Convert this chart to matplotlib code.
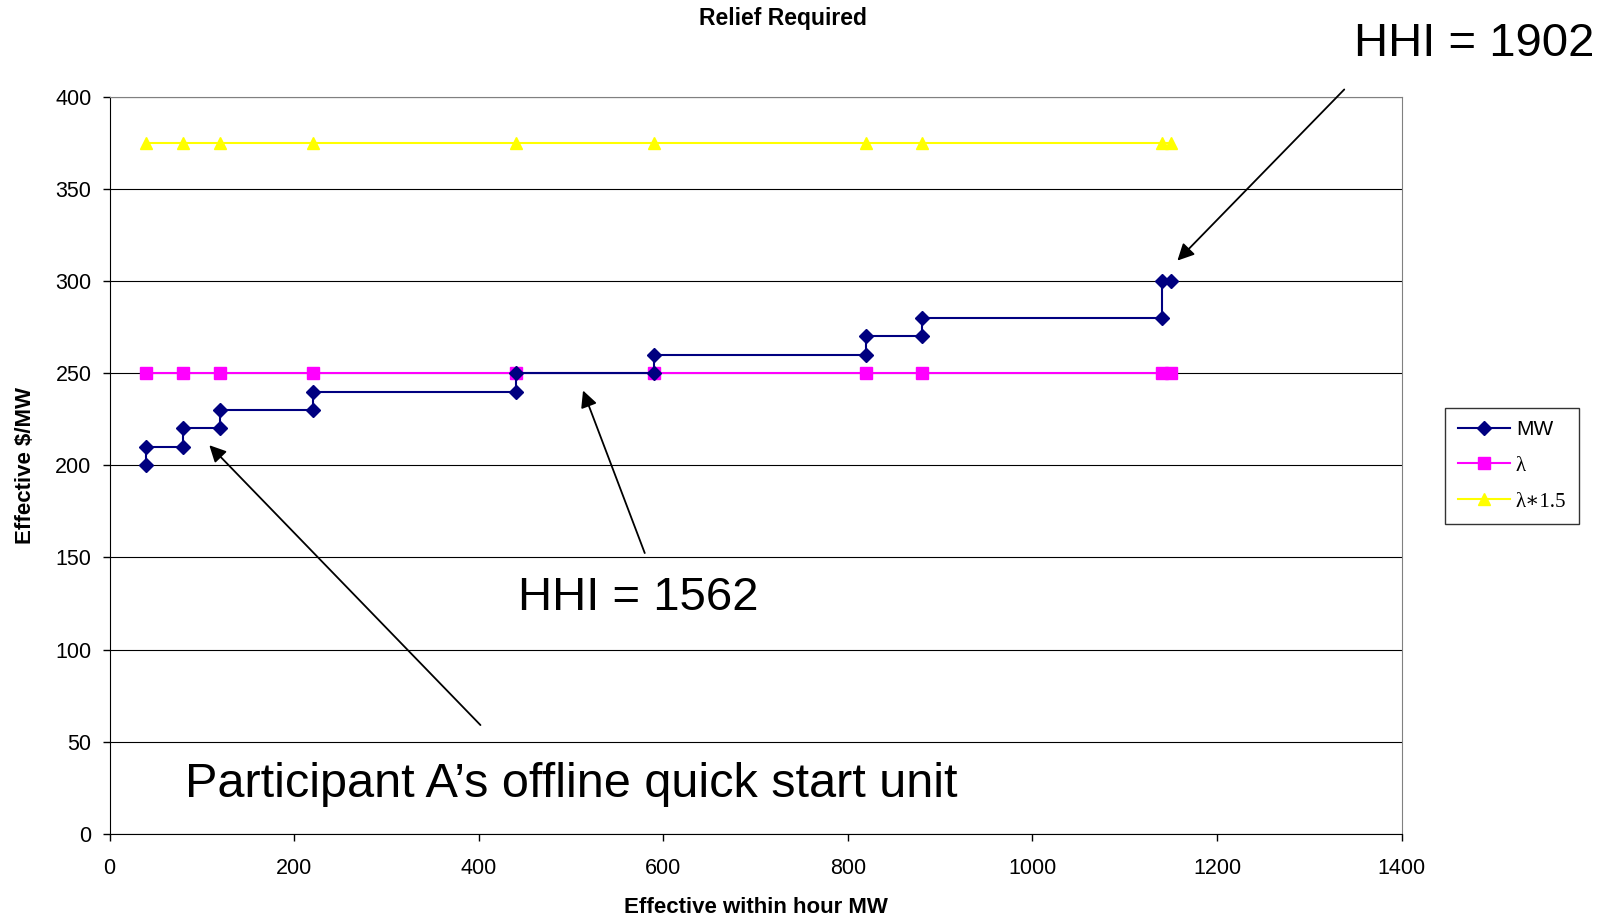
import numpy as np
import matplotlib.pyplot as plt
from matplotlib.lines import Line2D

# step curve of offers
mw_x = [40, 40, 80, 80, 120, 120, 220, 220, 440, 440, 590, 590, 820, 820, 880, 880, 1140, 1140, 1150]
mw_y = [200, 210, 210, 220, 220, 230, 230, 240, 240, 250, 250, 260, 260, 270, 270, 280, 280, 300, 300]

lam_x = [40, 80, 120, 220, 440, 590, 820, 880, 1140, 1150]
lam_y = [250, 250, 250, 250, 250, 250, 250, 250, 250, 250]
lam15_y = [375, 375, 375, 375, 375, 375, 375, 375, 375, 375]

x_ticks = [0, 200, 400, 600, 800, 1000, 1200, 1400]
y_ticks = [0, 50, 100, 150, 200, 250, 300, 350, 400]

plt.rcParams['font.family'] = ['Liberation Sans', 'DejaVu Sans']

fig = plt.figure(figsize=(16.11, 9.21), dpi=100)
ax = fig.add_axes([0.068, 0.0945, 0.802, 0.8005])

ax.plot(lam_x, lam15_y, color='#FFFF00', marker='^', markersize=9, linewidth=1.5, zorder=3)
ax.plot(lam_x, lam_y, color='#FF00FF', marker='s', markersize=8, linewidth=1.5, zorder=3)
ax.plot(mw_x, mw_y, color='#000080', marker='D', markersize=7, linewidth=1.5, zorder=4)

ax.set_xlim(0, 1400)
ax.set_ylim(0, 400)
ax.set_xticks(x_ticks)
ax.set_yticks(y_ticks)
ax.tick_params(labelsize=15.5, direction='out', length=5, width=1)
ax.tick_params(axis='x', pad=12)
ax.tick_params(axis='y', pad=8)
ax.yaxis.grid(True, color='#000000', linewidth=0.8)
ax.set_axisbelow(True)
for s in ['top', 'right']:
    ax.spines[s].set_color('#808080')
ax.spines['left'].set_color('black')
ax.spines['bottom'].set_color('black')

fig.text(0.486, 0.98, 'Relief Required', ha='center', va='center', fontsize=16.5, fontweight='bold')
fig.text(0.469, 0.015, 'Effective within hour MW', ha='center', va='center', fontsize=16, fontweight='bold')
fig.text(0.016, 0.495, 'Effective $/MW', ha='center', va='center', rotation=90, fontsize=16, fontweight='bold')

arrow = dict(arrowstyle='-|>', color='black', lw=1.3, mutation_scale=25)
ax.annotate('', xy=(1155, 310), xytext=(1340, 405), arrowprops=arrow, annotation_clip=False)
ax.annotate('', xy=(512, 242), xytext=(581, 151), arrowprops=arrow)
ax.annotate('', xy=(106, 212), xytext=(404, 58), arrowprops=arrow)

fig.text(0.915, 0.952, 'HHI = 1902', ha='center', va='center', fontsize=34)
ax.text(573, 128, 'HHI = 1562', ha='center', va='center', fontsize=34)
ax.text(82, 27, 'Participant A\u2019s offline quick start unit', ha='left', va='center', fontsize=35)

handles = [
    Line2D([], [], color='#000080', marker='D', markersize=7, linewidth=1.5),
    Line2D([], [], color='#FF00FF', marker='s', markersize=8, linewidth=1.5),
    Line2D([], [], color='#FFFF00', marker='^', markersize=9, linewidth=1.5),
]
leg = fig.legend(handles, ['MW', '\u03bb', '\u03bb\u22171.5'], loc='center',
                 bbox_to_anchor=(0.9385, 0.494), fontsize=15, frameon=True, fancybox=False,
                 edgecolor='black', handlelength=2.5, handletextpad=0.3, labelspacing=0.8,
                 borderpad=0.6)
leg.get_frame().set_linewidth(1)
for t in leg.get_texts()[1:]:
    t.set_family(['Liberation Serif', 'DejaVu Serif'])

fig.savefig('out.png', dpi=100)
